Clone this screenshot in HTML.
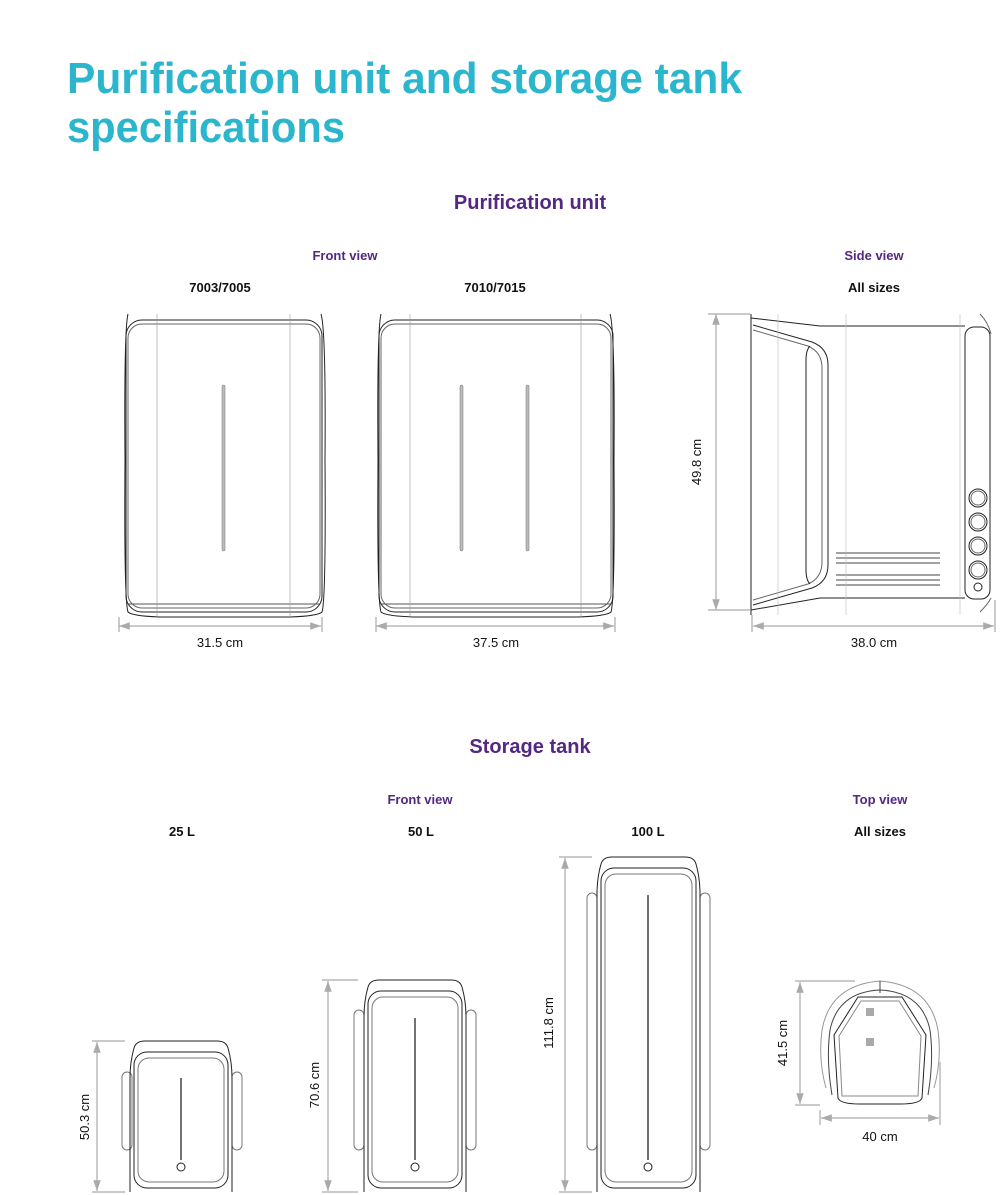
<!DOCTYPE html>
<html><head><meta charset="utf-8"><style>
html,body{margin:0;padding:0;background:#fff;}
svg{display:block;}
text{font-family:"Liberation Sans",sans-serif;}
</style></head><body>
<svg width="1000" height="1195" viewBox="0 0 1000 1195" xmlns="http://www.w3.org/2000/svg">
<defs>
<marker id="a" viewBox="0 0 10 10" refX="10" refY="5" markerWidth="9" markerHeight="9" orient="auto-start-reverse"><path d="M0,1.5 L10,5 L0,8.5z" fill="#aaa"/></marker>
</defs>
<text x="67" y="93" font-size="44" font-weight="bold" fill="#2bb6cd" textLength="675" lengthAdjust="spacingAndGlyphs">Purification unit and storage tank</text>
<text x="67" y="142" font-size="44" font-weight="bold" fill="#2bb6cd" textLength="278" lengthAdjust="spacingAndGlyphs">specifications</text>

<text x="530" y="209" font-size="20" font-weight="bold" fill="#532782" text-anchor="middle">Purification unit</text>
<text x="345" y="260" font-size="13" font-weight="bold" fill="#532782" text-anchor="middle">Front view</text>
<text x="874" y="260" font-size="13" font-weight="bold" fill="#532782" text-anchor="middle">Side view</text>
<g font-size="13" font-weight="bold" fill="#111" text-anchor="middle">
<text x="220" y="292">7003/7005</text><text x="495" y="292">7010/7015</text><text x="874" y="292">All sizes</text>
</g>

<g fill="none" stroke="#222" stroke-width="1">
<path d="M128,314 Q124,330 125,460 Q124,600 128,612 Q132,616 160,617 L290,617 Q318,616 322,612 Q326,600 325,460 Q326,330 321,314"/>
<rect x="126" y="320" width="196" height="292" rx="16"/>
<rect x="128" y="324" width="192" height="284" rx="14" stroke="#666"/>
<path d="M128,604 L320,604" stroke="#555"/>
<line x1="157" y1="314" x2="157" y2="617" stroke="#999" stroke-width="0.6"/>
<line x1="290" y1="314" x2="290" y2="617" stroke="#999" stroke-width="0.6"/>
<path d="M381,314 Q377,330 378,460 Q377,600 381,612 Q385,616 413,617 L578,617 Q607,616 611,612 Q615,600 614,460 Q615,330 610,314"/>
<rect x="379" y="320" width="234" height="292" rx="16"/>
<rect x="381" y="324" width="230" height="284" rx="14" stroke="#666"/>
<path d="M381,604 L611,604" stroke="#555"/>
<line x1="410" y1="314" x2="410" y2="617" stroke="#999" stroke-width="0.6"/>
<line x1="581" y1="314" x2="581" y2="617" stroke="#999" stroke-width="0.6"/>
</g>
<g fill="#bbb" stroke="#777" stroke-width="0.5">
<rect x="222" y="385" width="3" height="166" rx="1.5"/>
<rect x="460" y="385" width="3" height="166" rx="1.5"/>
<rect x="526" y="385" width="3" height="166" rx="1.5"/>
</g>

<g fill="none" stroke="#222" stroke-width="1">
<line x1="751" y1="314" x2="751" y2="615"/>
<path d="M751,318 L820,326 L965,326"/>
<path d="M751,610 L820,598 L965,598"/>
<path d="M753,325 L812,342 Q828,348 828,365 L828,565 Q828,582 812,588 L753,605"/>
<path d="M753,330 L808,346 Q822,352 822,368 L822,562 Q822,578 808,584 L753,600" stroke="#666"/>
<path d="M810,346 Q806,350 806,360 L806,570 Q806,580 810,584"/>
<rect x="965" y="327" width="25" height="272" rx="9"/>
<circle cx="978" cy="498" r="9"/><circle cx="978" cy="498" r="7" stroke="#666"/>
<circle cx="978" cy="522" r="9"/><circle cx="978" cy="522" r="7" stroke="#666"/>
<circle cx="978" cy="546" r="9"/><circle cx="978" cy="546" r="7" stroke="#666"/>
<circle cx="978" cy="570" r="9"/><circle cx="978" cy="570" r="7" stroke="#666"/>
<circle cx="978" cy="587" r="4"/>
<path d="M836,553h104M836,558h104M836,563h104M836,575h104M836,580h104M836,585h104" stroke="#444"/>
<path d="M980,314 Q988,322 991,334 M980,612 Q988,604 991,598" stroke="#666"/>
<line x1="846" y1="314" x2="846" y2="615" stroke="#bbb" stroke-width="0.6"/>
<line x1="778" y1="314" x2="778" y2="615" stroke="#bbb" stroke-width="0.6"/>
<line x1="960" y1="314" x2="960" y2="615" stroke="#bbb" stroke-width="0.6"/>
</g>

<g stroke="#aaa" stroke-width="1.2" fill="none">
<line x1="119" y1="626" x2="321" y2="626" marker-start="url(#a)" marker-end="url(#a)"/>
<line x1="119" y1="617" x2="119" y2="632"/><line x1="322" y1="617" x2="322" y2="632"/>
<line x1="376" y1="626" x2="614" y2="626" marker-start="url(#a)" marker-end="url(#a)"/>
<line x1="376" y1="617" x2="376" y2="632"/><line x1="615" y1="617" x2="615" y2="632"/>
<line x1="716" y1="314" x2="716" y2="610" marker-start="url(#a)" marker-end="url(#a)"/>
<line x1="708" y1="314" x2="750" y2="314"/><line x1="708" y1="610" x2="750" y2="610"/>
<line x1="753" y1="626" x2="994" y2="626" marker-start="url(#a)" marker-end="url(#a)"/>
<line x1="752" y1="615" x2="752" y2="632"/><line x1="995" y1="600" x2="995" y2="632"/>
</g>
<g font-size="13" fill="#111" text-anchor="middle">
<text x="220" y="647">31.5 cm</text><text x="496" y="647">37.5 cm</text><text x="874" y="647">38.0 cm</text>
<text transform="translate(701,462) rotate(-90)">49.8 cm</text>
</g>

<text x="530" y="753" font-size="20" font-weight="bold" fill="#532782" text-anchor="middle">Storage tank</text>
<text x="420" y="804" font-size="13" font-weight="bold" fill="#532782" text-anchor="middle">Front view</text>
<text x="880" y="804" font-size="13" font-weight="bold" fill="#532782" text-anchor="middle">Top view</text>
<g font-size="13" font-weight="bold" fill="#111" text-anchor="middle">
<text x="182" y="836">25 L</text><text x="421" y="836">50 L</text><text x="648" y="836">100 L</text><text x="880" y="836">All sizes</text>
</g>

<g fill="none" stroke="#222" stroke-width="1">
<rect x="122" y="1072" width="10" height="78" rx="5" stroke="#777"/>
<rect x="232" y="1072" width="10" height="78" rx="5" stroke="#777"/>
<path d="M130,1192 L130,1078 Q130,1062 134,1048 Q136,1041 145,1041 L217,1041 Q226,1041 228,1048 Q232,1062 232,1078 L232,1192"/>
<rect x="134" y="1052" width="94" height="136" rx="13"/>
<rect x="138" y="1058" width="86" height="124" rx="11" stroke="#777"/>
<line x1="181" y1="1078" x2="181" y2="1160" stroke="#444" stroke-width="1.5"/>
<circle cx="181" cy="1167" r="4"/>
<rect x="354" y="1010" width="10" height="140" rx="5" stroke="#777"/>
<rect x="466" y="1010" width="10" height="140" rx="5" stroke="#777"/>
<path d="M364,1192 L364,1017 Q364,1001 368,987 Q370,980 379,980 L451,980 Q460,980 462,987 Q466,1001 466,1017 L466,1192"/>
<rect x="368" y="991" width="94" height="197" rx="13"/>
<rect x="372" y="997" width="86" height="185" rx="11" stroke="#777"/>
<line x1="415" y1="1018" x2="415" y2="1160" stroke="#444" stroke-width="1.5"/>
<circle cx="415" cy="1167" r="4"/>
<rect x="587" y="893" width="10" height="257" rx="5" stroke="#777"/>
<rect x="700" y="893" width="10" height="257" rx="5" stroke="#777"/>
<path d="M597,1192 L597,894 Q597,878 601,864 Q603,857 612,857 L685,857 Q694,857 696,864 Q700,878 700,894 L700,1192"/>
<rect x="601" y="868" width="95" height="320" rx="13"/>
<rect x="605" y="874" width="87" height="308" rx="11" stroke="#777"/>
<line x1="648" y1="895" x2="648" y2="1160" stroke="#444" stroke-width="1.5"/>
<circle cx="648" cy="1167" r="4"/>
<path d="M826,1088 Q818,1060 822,1030 Q830,985 880,981 Q930,985 938,1030 Q942,1060 934,1088" stroke="#999"/>
<path d="M832,1095 Q826,1060 830,1030 Q838,992 880,990 Q922,992 930,1030 Q934,1060 928,1095" stroke="#444"/>
<path d="M838,1098 L834,1035 L858,997 L902,997 L926,1035 L922,1098 Q920,1104 900,1104 L860,1104 Q840,1104 838,1098z"/>
<path d="M842,1096 L839,1036 L861,1001 L899,1001 L921,1036 L918,1096z" stroke="#888"/>
<line x1="880" y1="981" x2="880" y2="993" stroke="#444"/>
<rect x="866" y="1008" width="8" height="8" fill="#aaa" stroke="none"/>
<rect x="866" y="1038" width="8" height="8" fill="#aaa" stroke="none"/>
</g>

<g stroke="#aaa" stroke-width="1.2" fill="none">
<line x1="97" y1="1042" x2="97" y2="1191" marker-start="url(#a)" marker-end="url(#a)"/>
<line x1="92" y1="1041" x2="125" y2="1041"/><line x1="92" y1="1192" x2="125" y2="1192"/>
<line x1="328" y1="981" x2="328" y2="1191" marker-start="url(#a)" marker-end="url(#a)"/>
<line x1="322" y1="980" x2="358" y2="980"/><line x1="322" y1="1192" x2="358" y2="1192"/>
<line x1="565" y1="858" x2="565" y2="1191" marker-start="url(#a)" marker-end="url(#a)"/>
<line x1="559" y1="857" x2="592" y2="857"/><line x1="559" y1="1192" x2="592" y2="1192"/>
<line x1="800" y1="982" x2="800" y2="1104" marker-start="url(#a)" marker-end="url(#a)"/>
<line x1="795" y1="981" x2="855" y2="981"/><line x1="795" y1="1105" x2="820" y2="1105"/>
<line x1="821" y1="1118" x2="939" y2="1118" marker-start="url(#a)" marker-end="url(#a)"/>
<line x1="820" y1="1110" x2="820" y2="1125"/><line x1="940" y1="1062" x2="940" y2="1125"/>
</g>
<g font-size="13" fill="#111" text-anchor="middle">
<text transform="translate(89,1117) rotate(-90)">50.3 cm</text>
<text transform="translate(319,1085) rotate(-90)">70.6 cm</text>
<text transform="translate(553,1023) rotate(-90)">111.8 cm</text>
<text transform="translate(787,1043) rotate(-90)">41.5 cm</text>
<text x="880" y="1141">40 cm</text>
</g>
</svg>
</body></html>
